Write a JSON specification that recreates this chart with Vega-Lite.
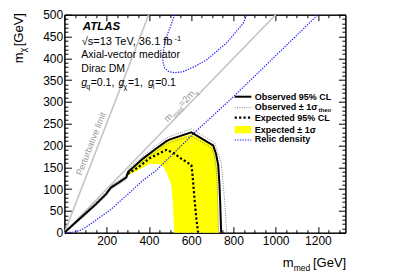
{
  "$schema": "https://vega.github.io/schema/vega-lite/v6.json",
  "width": 281,
  "height": 218,
  "autosize": "none",
  "padding": {"left": 64.4, "top": 14.7, "right": 61.6, "bottom": 44.3},
  "background": "white",
  "config": {
    "view": {"stroke": "black", "strokeWidth": 1},
    "font": "Liberation Sans",
    "axis": {"grid": false, "title": null, "tickColor": "black", "domainColor": "black", "labelColor": "black", "labelFont": "Liberation Sans", "labelFontSize": 12, "labelFlush": false, "labelOverlap": false, "tickWidth": 1, "domainWidth": 1, "format": "d"}
  },
  "datasets": {
    "band": [
      {"x": 300, "lo": 131, "hi": 137}, {"x": 350, "lo": 143, "hi": 160}, {"x": 404, "lo": 158, "hi": 180},
      {"x": 450, "lo": 157, "hi": 197}, {"x": 467, "lo": 151, "hi": 201}, {"x": 485, "lo": 135, "hi": 207},
      {"x": 500, "lo": 118, "hi": 211}, {"x": 507, "lo": 105, "hi": 212}, {"x": 512, "lo": 75, "hi": 213},
      {"x": 516, "lo": 40, "hi": 214}, {"x": 520, "lo": 0, "hi": 215}, {"x": 550, "lo": 0, "hi": 219},
      {"x": 600, "lo": 0, "hi": 226}, {"x": 650, "lo": 0, "hi": 213}, {"x": 700, "lo": 0, "hi": 198},
      {"x": 712, "lo": 0, "hi": 180}, {"x": 722, "lo": 0, "hi": 155}, {"x": 726, "lo": 0, "hi": 110},
      {"x": 728, "lo": 0, "hi": 60}, {"x": 730, "lo": 0, "hi": 0}
    ],
    "gray": [
      {"g": "pert", "i": 0, "x": 0, "y": 0}, {"g": "pert", "i": 1, "x": 399, "y": 500},
      {"g": "twom", "i": 0, "x": 0, "y": 0}, {"g": "twom", "i": 1, "x": 1000, "y": 500}
    ],
    "relic": [
      {"c": "low", "i": 0, "x": 0, "y": 0}, {"c": "low", "i": 1, "x": 40, "y": 1}, {"c": "low", "i": 2, "x": 72, "y": 5},
      {"c": "low", "i": 3, "x": 100, "y": 12}, {"c": "low", "i": 4, "x": 135, "y": 24}, {"c": "low", "i": 5, "x": 214, "y": 51},
      {"c": "low", "i": 6, "x": 293, "y": 85}, {"c": "low", "i": 7, "x": 372, "y": 120}, {"c": "low", "i": 8, "x": 435, "y": 143},
      {"c": "low", "i": 9, "x": 617, "y": 230}, {"c": "low", "i": 10, "x": 798, "y": 311}, {"c": "low", "i": 11, "x": 1200, "y": 500},
      {"c": "up", "i": 0, "x": 522, "y": 500}, {"c": "up", "i": 1, "x": 500, "y": 470}, {"c": "up", "i": 2, "x": 483, "y": 450},
      {"c": "up", "i": 3, "x": 474, "y": 432}, {"c": "up", "i": 4, "x": 467, "y": 410}, {"c": "up", "i": 5, "x": 466, "y": 392},
      {"c": "up", "i": 6, "x": 474, "y": 378}, {"c": "up", "i": 7, "x": 492, "y": 370}, {"c": "up", "i": 8, "x": 521, "y": 367},
      {"c": "up", "i": 9, "x": 560, "y": 369}, {"c": "up", "i": 10, "x": 620, "y": 382}, {"c": "up", "i": 11, "x": 672, "y": 396},
      {"c": "up", "i": 12, "x": 767, "y": 435}, {"c": "up", "i": 13, "x": 846, "y": 480}, {"c": "up", "i": 14, "x": 864, "y": 500}
    ],
    "theo": [
      {"s": "up", "i": 0, "x": 2, "y": 2}, {"s": "up", "i": 1, "x": 100, "y": 48}, {"s": "up", "i": 2, "x": 198, "y": 93},
      {"s": "up", "i": 3, "x": 222, "y": 108}, {"s": "up", "i": 4, "x": 293, "y": 132}, {"s": "up", "i": 5, "x": 301, "y": 145},
      {"s": "up", "i": 6, "x": 372, "y": 176}, {"s": "up", "i": 7, "x": 435, "y": 200}, {"s": "up", "i": 8, "x": 483, "y": 217},
      {"s": "up", "i": 9, "x": 500, "y": 221}, {"s": "up", "i": 10, "x": 601, "y": 238}, {"s": "up", "i": 11, "x": 710, "y": 207},
      {"s": "up", "i": 12, "x": 728, "y": 180}, {"s": "up", "i": 13, "x": 742, "y": 160}, {"s": "up", "i": 14, "x": 752, "y": 110},
      {"s": "up", "i": 15, "x": 760, "y": 60}, {"s": "up", "i": 16, "x": 768, "y": 0},
      {"s": "dn", "i": 0, "x": 2, "y": 0}, {"s": "dn", "i": 1, "x": 100, "y": 40}, {"s": "dn", "i": 2, "x": 198, "y": 85},
      {"s": "dn", "i": 3, "x": 222, "y": 100}, {"s": "dn", "i": 4, "x": 293, "y": 122}, {"s": "dn", "i": 5, "x": 301, "y": 133},
      {"s": "dn", "i": 6, "x": 372, "y": 164}, {"s": "dn", "i": 7, "x": 435, "y": 186}, {"s": "dn", "i": 8, "x": 483, "y": 203},
      {"s": "dn", "i": 9, "x": 500, "y": 207}, {"s": "dn", "i": 10, "x": 601, "y": 222}, {"s": "dn", "i": 11, "x": 698, "y": 194},
      {"s": "dn", "i": 12, "x": 712, "y": 170}, {"s": "dn", "i": 13, "x": 720, "y": 140}, {"s": "dn", "i": 14, "x": 724, "y": 100},
      {"s": "dn", "i": 15, "x": 727, "y": 50}, {"s": "dn", "i": 16, "x": 730, "y": 0}
    ],
    "exp": [
      {"i": 0, "x": 300, "y": 135}, {"i": 1, "x": 350, "y": 150}, {"i": 2, "x": 404, "y": 171}, {"i": 3, "x": 450, "y": 182},
      {"i": 4, "x": 483, "y": 190}, {"i": 5, "x": 520, "y": 182}, {"i": 6, "x": 546, "y": 172}, {"i": 7, "x": 601, "y": 155},
      {"i": 8, "x": 607, "y": 130}, {"i": 9, "x": 612, "y": 100}, {"i": 10, "x": 617, "y": 70}, {"i": 11, "x": 625, "y": 30},
      {"i": 12, "x": 633, "y": 0}
    ],
    "obs": [
      {"i": 0, "x": 2, "y": 1}, {"i": 1, "x": 50, "y": 22}, {"i": 2, "x": 100, "y": 44}, {"i": 3, "x": 150, "y": 66},
      {"i": 4, "x": 198, "y": 89}, {"i": 5, "x": 210, "y": 97}, {"i": 6, "x": 222, "y": 104}, {"i": 7, "x": 260, "y": 116},
      {"i": 8, "x": 293, "y": 127}, {"i": 9, "x": 301, "y": 139}, {"i": 10, "x": 372, "y": 170}, {"i": 11, "x": 435, "y": 193},
      {"i": 12, "x": 483, "y": 210}, {"i": 13, "x": 500, "y": 214}, {"i": 14, "x": 601, "y": 230}, {"i": 15, "x": 704, "y": 200},
      {"i": 16, "x": 718, "y": 180}, {"i": 17, "x": 728, "y": 155}, {"i": 18, "x": 734, "y": 110}, {"i": 19, "x": 738, "y": 60},
      {"i": 20, "x": 742, "y": 0}
    ],
    "legl": [
      {"item": "obs", "x": 806, "x2": 885, "y": 311.9},
      {"item": "theo", "x": 806, "x2": 885, "y": 286.7},
      {"item": "exp", "x": 806, "x2": 885, "y": 263.8},
      {"item": "relic", "x": 806, "x2": 885, "y": 212.6}
    ],
    "legt": [
      {"t": "Observed 95% CL", "x": 900.8, "y": 305.5},
      {"t": "Observed ± 1σ", "x": 900.8, "y": 280.3},
      {"t": "Expected 95% CL", "x": 900.8, "y": 255.5},
      {"t": "Expected ± 1σ", "x": 900.8, "y": 229.8},
      {"t": "Relic density", "x": 900.8, "y": 207.3}
    ],
    "info": [
      {"t": "Axial-vector mediator", "x": 80, "y": 401.4},
      {"t": "Dirac DM", "x": 80, "y": 367.9},
      {"t": "=0.1,", "x": 124.3, "y": 336.5},
      {"t": "=1,", "x": 300.6, "y": 336.5},
      {"t": "=0.1", "x": 429.6, "y": 336.5}
    ],
    "ital": [
      {"t": "g", "x": 79.9, "y": 336.5},
      {"t": "g", "x": 256.6, "y": 336.5},
      {"t": "g", "x": 395.1, "y": 336.5}
    ],
    "subs": [
      {"t": "q", "x": 103.5, "y": 329.7},
      {"t": "χ", "x": 280.2, "y": 329.7},
      {"t": "l", "x": 418.7, "y": 329.7}
    ]
  },
  "layer": [
    {
      "data": {"name": "band"},
      "mark": {"type": "area", "color": "#ffff00", "opacity": 1},
      "encoding": {
        "x": {"field": "x", "type": "quantitative", "scale": {"domain": [0, 1330], "nice": false, "zero": false},
              "axis": {"orient": "bottom", "values": [200, 400, 600, 800, 1000, 1200], "tickSize": -6, "labelPadding": 8.5, "domain": true}},
        "y": {"field": "lo", "type": "quantitative", "scale": {"domain": [0, 500], "nice": false, "zero": false},
              "axis": {"orient": "left", "values": [0, 50, 100, 150, 200, 250, 300, 350, 400, 450, 500], "tickSize": -7, "labelPadding": 8.7, "domain": true}},
        "y2": {"field": "hi"}
      }
    },
    {
      "data": {"name": "gray"},
      "mark": {"type": "line", "color": "#c4c4c4", "strokeWidth": 1.6},
      "encoding": {
        "x": {"field": "x", "type": "quantitative", "scale": {"domain": [0, 1330], "nice": false, "zero": false},
              "axis": {"orient": "top", "values": [0, 200, 400, 600, 800, 1000, 1200], "tickSize": -6, "labels": false, "domain": true}},
        "y": {"field": "y", "type": "quantitative", "scale": {"domain": [0, 500], "nice": false, "zero": false},
              "axis": {"orient": "right", "values": [0, 50, 100, 150, 200, 250, 300, 350, 400, 450, 500], "tickSize": -7, "labels": false, "domain": true}},
        "detail": {"field": "g"},
        "order": {"field": "i"}
      }
    },
    {
      "data": {"name": "relic"},
      "mark": {"type": "line", "color": "#1a1aff", "strokeWidth": 1.2, "strokeDash": [1.3, 1.3], "clip": true},
      "encoding": {
        "x": {"field": "x", "type": "quantitative", "scale": {"domain": [0, 1330], "nice": false, "zero": false},
              "axis": {"orient": "bottom", "values": [50, 100, 150, 250, 300, 350, 450, 500, 550, 650, 700, 750, 850, 900, 950, 1050, 1100, 1150, 1250, 1300], "tickSize": -3, "labels": false, "domain": false}},
        "y": {"field": "y", "type": "quantitative", "scale": {"domain": [0, 500], "nice": false, "zero": false},
              "axis": {"orient": "left", "values": [10, 20, 30, 40, 60, 70, 80, 90, 110, 120, 130, 140, 160, 170, 180, 190, 210, 220, 230, 240, 260, 270, 280, 290, 310, 320, 330, 340, 360, 370, 380, 390, 410, 420, 430, 440, 460, 470, 480, 490], "tickSize": -3.5, "labels": false, "domain": false}},
        "detail": {"field": "c"},
        "order": {"field": "i"}
      }
    },
    {
      "data": {"name": "theo"},
      "mark": {"type": "line", "color": "#777777", "strokeWidth": 0.9, "strokeDash": [1, 1.3]},
      "encoding": {
        "x": {"field": "x", "type": "quantitative", "scale": {"domain": [0, 1330], "nice": false, "zero": false},
              "axis": {"orient": "top", "values": [50, 100, 150, 250, 300, 350, 450, 500, 550, 650, 700, 750, 850, 900, 950, 1050, 1100, 1150, 1250, 1300], "tickSize": -3, "labels": false, "domain": false}},
        "y": {"field": "y", "type": "quantitative", "scale": {"domain": [0, 500], "nice": false, "zero": false},
              "axis": {"orient": "right", "values": [10, 20, 30, 40, 60, 70, 80, 90, 110, 120, 130, 140, 160, 170, 180, 190, 210, 220, 230, 240, 260, 270, 280, 290, 310, 320, 330, 340, 360, 370, 380, 390, 410, 420, 430, 440, 460, 470, 480, 490], "tickSize": -3.5, "labels": false, "domain": false}},
        "detail": {"field": "s"},
        "order": {"field": "i"}
      }
    },
    {
      "data": {"name": "exp"},
      "mark": {"type": "line", "color": "black", "strokeWidth": 2.2, "strokeDash": [2.2, 2.2]},
      "encoding": {
        "x": {"field": "x", "type": "quantitative", "axis": null},
        "y": {"field": "y", "type": "quantitative", "axis": null},
        "order": {"field": "i"}
      }
    },
    {
      "data": {"name": "obs"},
      "mark": {"type": "line", "color": "black", "strokeWidth": 2},
      "encoding": {
        "x": {"field": "x", "type": "quantitative", "axis": null},
        "y": {"field": "y", "type": "quantitative", "axis": null},
        "order": {"field": "i"}
      }
    },
    {
      "data": {"name": "legl"},
      "transform": [{"filter": "datum.item == 'obs'"}],
      "mark": {"type": "rule", "color": "black", "strokeWidth": 2},
      "encoding": {"x": {"field": "x", "type": "quantitative", "axis": null}, "x2": {"field": "x2"}, "y": {"field": "y", "type": "quantitative", "axis": null}}
    },
    {
      "data": {"name": "legl"},
      "transform": [{"filter": "datum.item == 'theo'"}],
      "mark": {"type": "rule", "color": "#777777", "strokeWidth": 0.9, "strokeDash": [1, 1.3]},
      "encoding": {"x": {"field": "x", "type": "quantitative", "axis": null}, "x2": {"field": "x2"}, "y": {"field": "y", "type": "quantitative", "axis": null}}
    },
    {
      "data": {"name": "legl"},
      "transform": [{"filter": "datum.item == 'exp'"}],
      "mark": {"type": "rule", "color": "black", "strokeWidth": 2.2, "strokeDash": [2.2, 2.2]},
      "encoding": {"x": {"field": "x", "type": "quantitative", "axis": null}, "x2": {"field": "x2"}, "y": {"field": "y", "type": "quantitative", "axis": null}}
    },
    {
      "data": {"name": "legl"},
      "transform": [{"filter": "datum.item == 'relic'"}],
      "mark": {"type": "rule", "color": "#1a1aff", "strokeWidth": 1.2, "strokeDash": [1.3, 1.3]},
      "encoding": {"x": {"field": "x", "type": "quantitative", "axis": null}, "x2": {"field": "x2"}, "y": {"field": "y", "type": "quantitative", "axis": null}}
    },
    {
      "data": {"values": [{"x": 806, "x2": 885, "y": 228, "y2": 244.7}]},
      "mark": {"type": "rect", "color": "#ffff00"},
      "encoding": {"x": {"field": "x", "type": "quantitative", "axis": null}, "x2": {"field": "x2"}, "y": {"field": "y", "type": "quantitative", "axis": null}, "y2": {"field": "y2"}}
    },
    {
      "data": {"name": "legt"},
      "mark": {"type": "text", "align": "left", "baseline": "alphabetic", "fontSize": 9, "fontWeight": "bold", "color": "black", "font": "Liberation Sans", "clip": false},
      "encoding": {"x": {"field": "x", "type": "quantitative", "axis": null}, "y": {"field": "y", "type": "quantitative", "axis": null}, "text": {"field": "t"}}
    },
    {
      "data": {"values": [{"t": "theo", "x": 1203, "y": 275.7}]},
      "mark": {"type": "text", "align": "left", "baseline": "alphabetic", "fontSize": 6, "fontWeight": "bold", "color": "black", "font": "Liberation Sans", "clip": false},
      "encoding": {"x": {"field": "x", "type": "quantitative", "axis": null}, "y": {"field": "y", "type": "quantitative", "axis": null}, "text": {"field": "t"}}
    },
    {
      "data": {"values": [{"t": "ATLAS", "x": 86.5, "y": 465}]},
      "mark": {"type": "text", "align": "left", "baseline": "alphabetic", "fontSize": 11.5, "fontWeight": "bold", "fontStyle": "italic", "color": "black", "font": "Liberation Sans", "clip": false},
      "encoding": {"x": {"field": "x", "type": "quantitative", "axis": null}, "y": {"field": "y", "type": "quantitative", "axis": null}, "text": {"field": "t"}}
    },
    {
      "data": {"values": [{"t": "√s=13 TeV, 36.1 fb", "x": 82, "y": 429.8}]},
      "mark": {"type": "text", "align": "left", "baseline": "alphabetic", "fontSize": 11, "color": "black", "font": "Liberation Sans", "clip": false},
      "encoding": {"x": {"field": "x", "type": "quantitative", "axis": null}, "y": {"field": "y", "type": "quantitative", "axis": null}, "text": {"field": "t"}}
    },
    {
      "data": {"values": [{"t": "-1", "x": 521, "y": 440.8}]},
      "mark": {"type": "text", "align": "left", "baseline": "alphabetic", "fontSize": 7.5, "color": "black", "font": "Liberation Sans", "clip": false},
      "encoding": {"x": {"field": "x", "type": "quantitative", "axis": null}, "y": {"field": "y", "type": "quantitative", "axis": null}, "text": {"field": "t"}}
    },
    {
      "data": {"name": "info"},
      "mark": {"type": "text", "align": "left", "baseline": "alphabetic", "fontSize": 10.5, "color": "black", "font": "Liberation Sans", "clip": false},
      "encoding": {"x": {"field": "x", "type": "quantitative", "axis": null}, "y": {"field": "y", "type": "quantitative", "axis": null}, "text": {"field": "t"}}
    },
    {
      "data": {"name": "ital"},
      "mark": {"type": "text", "align": "left", "baseline": "alphabetic", "fontSize": 10.5, "fontStyle": "italic", "color": "black", "font": "Liberation Sans", "clip": false},
      "encoding": {"x": {"field": "x", "type": "quantitative", "axis": null}, "y": {"field": "y", "type": "quantitative", "axis": null}, "text": {"field": "t"}}
    },
    {
      "data": {"name": "subs"},
      "mark": {"type": "text", "align": "left", "baseline": "alphabetic", "fontSize": 7, "color": "black", "font": "Liberation Sans", "clip": false},
      "encoding": {"x": {"field": "x", "type": "quantitative", "axis": null}, "y": {"field": "y", "type": "quantitative", "axis": null}, "text": {"field": "t"}}
    },
    {
      "data": {"values": [{"t": "m", "x": 1033, "y": -79.8}, {"t": "[GeV]", "x": 1176.3, "y": -79.8}]},
      "mark": {"type": "text", "align": "left", "baseline": "alphabetic", "fontSize": 13, "color": "black", "font": "Liberation Sans", "clip": false},
      "encoding": {"x": {"field": "x", "type": "quantitative", "axis": null}, "y": {"field": "y", "type": "quantitative", "axis": null}, "text": {"field": "t"}}
    },
    {
      "data": {"values": [{"t": "med", "x": 1085, "y": -86.7}]},
      "mark": {"type": "text", "align": "left", "baseline": "alphabetic", "fontSize": 8.5, "color": "black", "font": "Liberation Sans", "clip": false},
      "encoding": {"x": {"field": "x", "type": "quantitative", "axis": null}, "y": {"field": "y", "type": "quantitative", "axis": null}, "text": {"field": "t"}}
    },
    {
      "data": {"values": [{"t": "m", "x": -195.7, "y": 388.5}, {"t": "[GeV]", "x": -195.7, "y": 427.5}]},
      "mark": {"type": "text", "align": "left", "baseline": "alphabetic", "angle": 270, "fontSize": 13, "color": "black", "font": "Liberation Sans", "clip": false},
      "encoding": {"x": {"field": "x", "type": "quantitative", "axis": null}, "y": {"field": "y", "type": "quantitative", "axis": null}, "text": {"field": "t"}}
    },
    {
      "data": {"values": [{"t": "χ", "x": -181.5, "y": 413.3}]},
      "mark": {"type": "text", "align": "left", "baseline": "alphabetic", "angle": 270, "fontSize": 9, "color": "black", "font": "Liberation Sans", "clip": false},
      "encoding": {"x": {"field": "x", "type": "quantitative", "axis": null}, "y": {"field": "y", "type": "quantitative", "axis": null}, "text": {"field": "t"}}
    },
    {
      "data": {"values": [{"t": "Perturbative limit", "x": 80.8, "y": 130}]},
      "mark": {"type": "text", "align": "left", "baseline": "alphabetic", "angle": 291.5, "fontSize": 9, "color": "#999999", "font": "Liberation Sans", "clip": false},
      "encoding": {"x": {"field": "x", "type": "quantitative", "axis": null}, "y": {"field": "y", "type": "quantitative", "axis": null}, "text": {"field": "t"}}
    },
    {
      "data": {"values": [{"t": "m", "x": 489.6, "y": 253}]},
      "mark": {"type": "text", "align": "left", "baseline": "alphabetic", "angle": 314, "fontSize": 9.5, "color": "#999999", "font": "Liberation Sans", "clip": false},
      "encoding": {"x": {"field": "x", "type": "quantitative", "axis": null}, "y": {"field": "y", "type": "quantitative", "axis": null}, "text": {"field": "t"}}
    },
    {
      "data": {"values": [{"t": "med", "x": 489.6, "y": 253}]},
      "mark": {"type": "text", "align": "left", "baseline": "alphabetic", "angle": 314, "dx": 8, "dy": 2.5, "fontSize": 6.5, "color": "#999999", "font": "Liberation Sans", "clip": false},
      "encoding": {"x": {"field": "x", "type": "quantitative", "axis": null}, "y": {"field": "y", "type": "quantitative", "axis": null}, "text": {"field": "t"}}
    },
    {
      "data": {"values": [{"t": "=2m", "x": 489.6, "y": 253}]},
      "mark": {"type": "text", "align": "left", "baseline": "alphabetic", "angle": 314, "dx": 20.8, "fontSize": 9.5, "color": "#999999", "font": "Liberation Sans", "clip": false},
      "encoding": {"x": {"field": "x", "type": "quantitative", "axis": null}, "y": {"field": "y", "type": "quantitative", "axis": null}, "text": {"field": "t"}}
    },
    {
      "data": {"values": [{"t": "χ", "x": 489.6, "y": 253}]},
      "mark": {"type": "text", "align": "left", "baseline": "alphabetic", "angle": 314, "dx": 39.5, "dy": 2.5, "fontSize": 6.5, "color": "#999999", "font": "Liberation Sans", "clip": false},
      "encoding": {"x": {"field": "x", "type": "quantitative", "axis": null}, "y": {"field": "y", "type": "quantitative", "axis": null}, "text": {"field": "t"}}
    }
  ],
  "resolve": {"axis": {"x": "independent", "y": "independent"}}
}
